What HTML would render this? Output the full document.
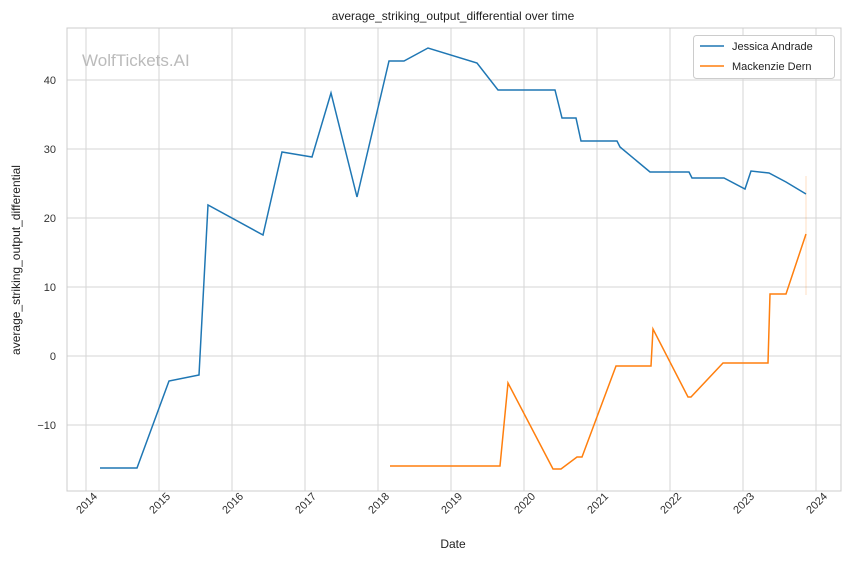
<!DOCTYPE html>
<html><head><style>body{margin:0;background:#fff}svg{display:block;font-family:"Liberation Sans","DejaVu Sans",sans-serif}</style></head><body>
<svg width="850" height="561" viewBox="0 0 850 561">
<rect width="850" height="561" fill="#fff"/>
<g stroke="#d5d5d5" stroke-width="1">
<line x1="86" y1="28" x2="86" y2="491"/><line x1="159" y1="28" x2="159" y2="491"/><line x1="232" y1="28" x2="232" y2="491"/><line x1="305" y1="28" x2="305" y2="491"/><line x1="378" y1="28" x2="378" y2="491"/><line x1="451" y1="28" x2="451" y2="491"/><line x1="524" y1="28" x2="524" y2="491"/><line x1="597" y1="28" x2="597" y2="491"/><line x1="670" y1="28" x2="670" y2="491"/><line x1="743" y1="28" x2="743" y2="491"/><line x1="816" y1="28" x2="816" y2="491"/>
<line x1="67" y1="80" x2="841" y2="80"/><line x1="67" y1="149" x2="841" y2="149"/><line x1="67" y1="218" x2="841" y2="218"/><line x1="67" y1="287" x2="841" y2="287"/><line x1="67" y1="356" x2="841" y2="356"/><line x1="67" y1="425" x2="841" y2="425"/>
</g>
<rect x="67" y="28" width="774" height="463" fill="none" stroke="#ccc" stroke-width="1"/>
<text x="82" y="66" font-size="17" fill="#bbb">WolfTickets.AI</text>
<line x1="806" y1="176" x2="806" y2="295" stroke="#ff7f0e" stroke-opacity="0.25" stroke-width="1"/>
<polyline fill="none" stroke="#1f77b4" stroke-width="1.5" points="100,468 137,468 169,381 199,375 208,205 263,235 282,152 312,157 331,93 357,197 389,61 404,61 428,48 477,63 498,90 555,90 562,118 576,118 581,141 617,141 620,147 650,172 689,172 692,178 724,178 745,189 751,171 769,173 786,182 806,194"/>
<polyline fill="none" stroke="#ff7f0e" stroke-width="1.5" points="390,466 500,466 508,383 553,469 561,469 577,457 582,457 616,366 651,366 653,329 688,397 691,397 723,363 768,363 770,294 786,294 806,234"/>
<g font-size="11" fill="#333" text-anchor="end">
<text x="56" y="84">40</text><text x="56" y="153">30</text><text x="56" y="222">20</text><text x="56" y="291">10</text><text x="56" y="360">0</text><text x="56" y="429">−10</text>
</g>
<g font-size="11" fill="#333" text-anchor="end">
<text transform="translate(98,497) rotate(-45)">2014</text><text transform="translate(171,497) rotate(-45)">2015</text><text transform="translate(244,497) rotate(-45)">2016</text><text transform="translate(317,497) rotate(-45)">2017</text><text transform="translate(390,497) rotate(-45)">2018</text><text transform="translate(463,497) rotate(-45)">2019</text><text transform="translate(536,497) rotate(-45)">2020</text><text transform="translate(609,497) rotate(-45)">2021</text><text transform="translate(682,497) rotate(-45)">2022</text><text transform="translate(755,497) rotate(-45)">2023</text><text transform="translate(828,497) rotate(-45)">2024</text>
</g>
<text x="453" y="548" font-size="12" fill="#222" text-anchor="middle">Date</text>
<text transform="translate(20,260) rotate(-90)" font-size="12" fill="#222" text-anchor="middle">average_striking_output_differential</text>
<text x="453" y="20" font-size="12" fill="#222" text-anchor="middle">average_striking_output_differential over time</text>
<rect x="693.5" y="35.5" width="141" height="43" rx="3" fill="#fff" stroke="#ccc"/>
<line x1="700" y1="46" x2="724" y2="46" stroke="#1f77b4" stroke-width="1.5"/>
<line x1="700" y1="66" x2="724" y2="66" stroke="#ff7f0e" stroke-width="1.5"/>
<text x="732" y="50" font-size="11" fill="#222">Jessica Andrade</text>
<text x="732" y="70" font-size="11" fill="#222">Mackenzie Dern</text>
</svg>
</body></html>
